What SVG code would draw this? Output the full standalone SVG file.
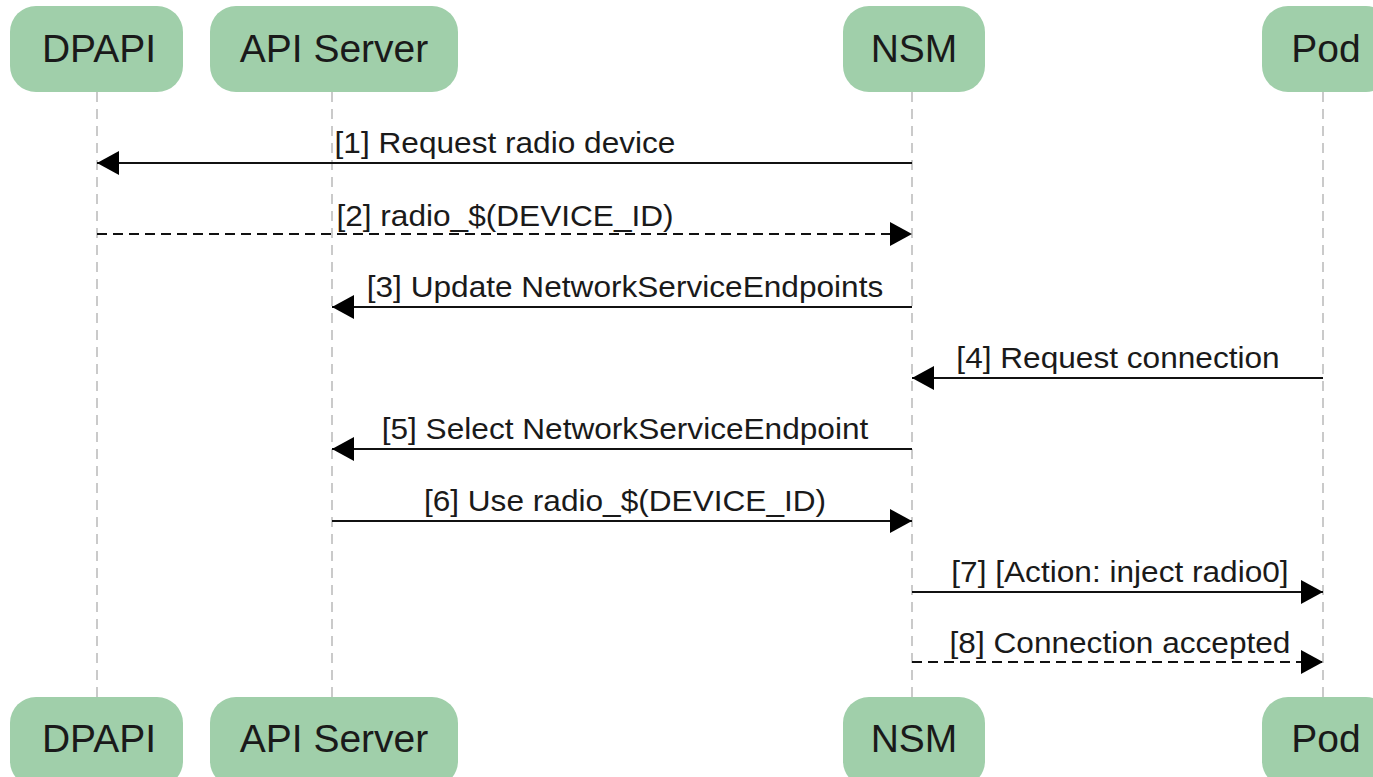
<svg xmlns="http://www.w3.org/2000/svg" width="1373" height="777" viewBox="0 0 1373 777">
  <style>
    .actor rect { fill: #a0cfaa; }
    .actor text { font-family: "Liberation Sans", Arial, sans-serif; font-size: 39px; fill: #1a1a1a; text-anchor: middle; }
    .life { stroke: #bdbdbd; stroke-width: 1.6; stroke-dasharray: 10 7; fill: none; }
    .msg { stroke: #111; stroke-width: 2; fill: none; }
    .dash { stroke-dasharray: 10 6; }
    .lbl { font-family: "Liberation Sans", Arial, sans-serif; font-size: 29px; fill: #1a1a1a; text-anchor: middle; }
  </style>
  <defs>
    <marker id="head" viewBox="0 0 22 24" refX="22" refY="12" markerWidth="22" markerHeight="24" markerUnits="userSpaceOnUse" orient="auto">
      <path d="M0,0 L22,12 L0,24 Z" fill="#000"/>
    </marker>
  </defs>
  <rect width="1373" height="777" fill="#fff"/>

  <!-- lifelines -->
  <g id="lifelines">
    <line class="life" x1="97" y1="92" x2="97" y2="697"/>
    <line class="life" x1="332" y1="92" x2="332" y2="697"/>
    <line class="life" x1="912" y1="92" x2="912" y2="697"/>
    <line class="life" x1="1323" y1="92" x2="1323" y2="697"/>
  </g>

  <!-- participants, top and bottom -->
  <g id="dpapi" class="actor">
    <rect x="10" y="6" width="173" height="86" rx="26"/>
    <text x="99" y="62">DPAPI</text>
    <rect x="10" y="697" width="173" height="90" rx="26"/>
    <text x="99" y="752">DPAPI</text>
  </g>
  <g id="api-server" class="actor">
    <rect x="210" y="6" width="248" height="86" rx="26"/>
    <text x="334" y="62">API Server</text>
    <rect x="210" y="697" width="248" height="90" rx="26"/>
    <text x="334" y="752">API Server</text>
  </g>
  <g id="nsm" class="actor">
    <rect x="843" y="6" width="142" height="86" rx="26"/>
    <text x="914" y="62">NSM</text>
    <rect x="843" y="697" width="142" height="90" rx="26"/>
    <text x="914" y="752">NSM</text>
  </g>
  <g id="pod" class="actor">
    <rect x="1262" y="6" width="130" height="86" rx="26"/>
    <text x="1326" y="62">Pod</text>
    <rect x="1262" y="697" width="130" height="90" rx="26"/>
    <text x="1326" y="752">Pod</text>
  </g>

  <!-- messages -->
  <g id="connectors">
    <line class="msg" x1="912" y1="163" x2="97" y2="163" marker-end="url(#head)"/>
    <text class="lbl" transform="translate(505 153) scale(1.09 1)">[1] Request radio device</text>

    <line class="msg dash" x1="97" y1="234" x2="912" y2="234" marker-end="url(#head)"/>
    <text class="lbl" transform="translate(505 226) scale(1.09 1)">[2] radio_$(DEVICE_ID)</text>

    <line class="msg" x1="912" y1="307" x2="332" y2="307" marker-end="url(#head)"/>
    <text class="lbl" transform="translate(625 297) scale(1.09 1)">[3] Update NetworkServiceEndpoints</text>

    <line class="msg" x1="1323" y1="378" x2="912" y2="378" marker-end="url(#head)"/>
    <text class="lbl" transform="translate(1118 368) scale(1.09 1)">[4] Request connection</text>

    <line class="msg" x1="912" y1="449" x2="332" y2="449" marker-end="url(#head)"/>
    <text class="lbl" transform="translate(625 439) scale(1.09 1)">[5] Select NetworkServiceEndpoint</text>

    <line class="msg" x1="332" y1="521" x2="912" y2="521" marker-end="url(#head)"/>
    <text class="lbl" transform="translate(625 511) scale(1.09 1)">[6] Use radio_$(DEVICE_ID)</text>

    <line class="msg" x1="912" y1="592" x2="1323" y2="592" marker-end="url(#head)"/>
    <text class="lbl" transform="translate(1120 582) scale(1.09 1)">[7] [Action: inject radio0]</text>

    <line class="msg dash" x1="912" y1="662" x2="1323" y2="662" marker-end="url(#head)"/>
    <text class="lbl" transform="translate(1120 653) scale(1.09 1)">[8] Connection accepted</text>
  </g>
</svg>
